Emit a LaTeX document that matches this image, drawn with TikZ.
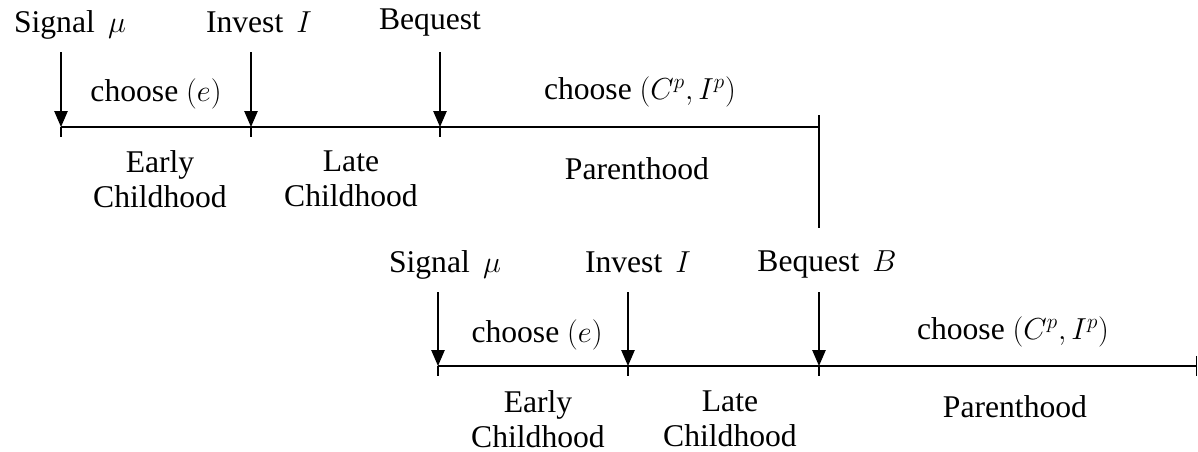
\documentclass[tikz,border=0pt]{standalone}
\usepackage{fontspec}
\setmainfont{Liberation Serif}
\usetikzlibrary{arrows.meta}
\tikzset{
	lbl/.style={inner sep=0pt,anchor=base,font=\fontsize{18}{19.5}\selectfont},
	twolbl/.style={inner sep=0pt,anchor=north,align=center,font=\fontsize{18}{20}\selectfont},
	timeline/.style={line width=1.7pt},
	tick/.style={line width=0.9pt},
	evt/.style={line width=0.9pt,-{Triangle[length=9pt,width=7.5pt]}}
}
\begin{document}
\begin{tikzpicture}[x=0.02cm,y=-0.02cm]
	\useasboundingbox (0,0) rectangle (1198,452);
	% first generation
	\coordinate (a0) at (61,127);
	\coordinate (a1) at (251,127);
	\coordinate (a2) at (440,127);
	\coordinate (a3) at (819,127);
	\draw[timeline] (a0)--(a3);
	\foreach \p in {a0,a1,a2} \draw[tick] (\p)--++(0,10);
	\draw[tick] (a3)--++(0,-12);
	\draw[tick] (a3)--(819,228);
	\foreach \p in {a0,a1,a2} {
		\coordinate (\p top) at ([yshift=1.5cm]\p);
		\draw[evt] (\p top)--(\p);
	}
	\node (sig1) at (70,33) [lbl] {Signal \,$\mu$};
	\node (inv1) at (259,33) [lbl] {Invest \,$I$};
	\node (beq1) at (430,30) [lbl] {Bequest};
	\node (cho1) at (156,102) [lbl] {choose $(e)$};
	\node (cha1) at (640,100) [lbl] {choose $(C^p,I^p)$};
	\node (ear1) at (160,150) [twolbl] {Early\\Childhood};
	\node (lat1) at (351,150) [twolbl] {Late\\Childhood};
	\node (par1) at (637,180) [lbl] {Parenthood};
	% second generation
	\coordinate (b0) at (438,366);
	\coordinate (b1) at (628,366);
	\coordinate (b2) at (819,366);
	\coordinate (b3) at (1197,366);
	\draw[timeline] (b0)--(b3);
	\foreach \p in {b0,b1,b2} \draw[tick] (\p)--++(0,10);
	\draw[tick] (1196.5,356)--(1196.5,376);
	\foreach \p in {b0,b1,b2} {
		\coordinate (\p top) at ([yshift=1.48cm]\p);
		\draw[evt] (\p top)--(\p);
	}
	\node (sig2) at (445,273) [lbl] {Signal \,$\mu$};
	\node (inv2) at (638,273) [lbl] {Invest \,$I$};
	\node (beq2) at (827,272) [lbl] {Bequest \,$B$};
	\node (cho2) at (537,343) [lbl] {choose $(e)$};
	\node (cha2) at (1013,340) [lbl] {choose $(C^p,I^p)$};
	\node (ear2) at (538,390) [twolbl] {Early\\Childhood};
	\node (lat2) at (730,390) [twolbl] {Late\\Childhood};
	\node (par2) at (1015,418) [lbl] {Parenthood};
\end{tikzpicture}
\end{document}
